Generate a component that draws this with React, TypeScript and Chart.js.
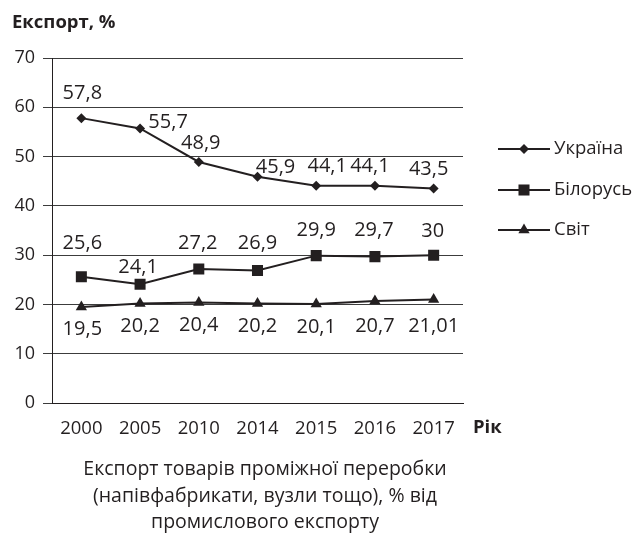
import React, { useEffect, useRef } from 'react';
import { Chart, registerables } from 'chart.js';

Chart.register(...registerables);

const years = ['2000', '2005', '2010', '2014', '2015', '2016', '2017'];
const ukraine = [57.8, 55.7, 48.9, 45.9, 44.1, 44.1, 43.5];
const belarus = [25.6, 24.1, 27.2, 26.9, 29.9, 29.7, 30];
const world = [19.5, 20.2, 20.4, 20.2, 20.1, 20.7, 21.01];
const seriesNames = ['Україна', 'Білорусь', 'Світ'];
const yAxisTitle = 'Експорт, %';
const xAxisTitle = 'Рік';
const caption = [
  'Експорт товарів проміжної переробки',
  '(напівфабрикати, вузли тощо), % від',
  'промислового експорту',
];

// label nudges (style only): [dx, dy] relative to the point
const ukraineNudge = [[1, -25], [28, -6], [2, -19], [18, -9], [11, -19], [-5, -19], [-5, -19]];
const belarusNudge = [[1, -34], [-2, -17], [-1, -26], [0, -27], [0, -25], [-1, -26], [-1, -24]];
const worldNudge = [[1, 22], [0, 23], [0, 23], [0, 23], [0, 23], [0, 25], [0, 27]];

const INK = '#231f20';
const GRID = '#3c3c3c';
const FONT = "'Open Sans', sans-serif";

const fmt = (v: number) => String(v).replace('.', ',');

function drawShape(ctx: CanvasRenderingContext2D, style: string, x: number, y: number, r: number) {
  ctx.beginPath();
  if (style === 'rectRot') {
    ctx.moveTo(x, y - r);
    ctx.lineTo(x + r, y);
    ctx.lineTo(x, y + r);
    ctx.lineTo(x - r, y);
  } else if (style === 'rect') {
    const s = r * Math.SQRT1_2;
    ctx.rect(x - s, y - s, 2 * s, 2 * s);
  } else {
    const h = r;
    ctx.moveTo(x, y - h);
    ctx.lineTo(x + h * Math.sin(Math.PI / 3), y + h / 2);
    ctx.lineTo(x - h * Math.sin(Math.PI / 3), y + h / 2);
  }
  ctx.closePath();
  ctx.fill();
}

const overlay = {
  id: 'overlay',
  afterDatasetsDraw(chart: any) {
    const ctx: CanvasRenderingContext2D = chart.ctx;
    const nudges = [ukraineNudge, belarusNudge, worldNudge];
    ctx.save();
    ctx.fillStyle = INK;
    ctx.textAlign = 'center';
    ctx.textBaseline = 'middle';
    ctx.font = `20px ${FONT}`;
    chart.data.datasets.forEach((ds: any, di: number) => {
      const meta = chart.getDatasetMeta(di);
      meta.data.forEach((pt: any, i: number) => {
        const [dx, dy] = nudges[di][i];
        ctx.fillText(fmt(ds.data[i]), pt.x + dx, pt.y + dy);
      });
    });

    // legend
    const area = chart.chartArea;
    const legendY = [149, 190, 230];
    chart.data.datasets.forEach((ds: any, di: number) => {
      const y = legendY[di];
      ctx.strokeStyle = INK;
      ctx.lineWidth = 2;
      ctx.beginPath();
      ctx.moveTo(area.right + 35, y);
      ctx.lineTo(area.right + 87, y);
      ctx.stroke();
      ctx.fillStyle = INK;
      drawShape(ctx, ds.pointStyle, area.right + 61, y, ds.pointRadius);
      ctx.textAlign = 'left';
      ctx.font = `18.5px ${FONT}`;
      ctx.fillText(ds.label, area.right + 91, y);
    });

    // titles
    ctx.font = `bold 18.5px ${FONT}`;
    ctx.textAlign = 'left';
    ctx.fillText(yAxisTitle, 12, 23);
    ctx.fillText(xAxisTitle, area.right + 10, 428);

    // caption
    ctx.font = `19.5px ${FONT}`;
    ctx.textAlign = 'center';
    const cy = [469, 496, 522];
    caption.forEach((line, i) => ctx.fillText(line, 265, cy[i]));
    ctx.restore();
  },
};

export default function App() {
  const ref = useRef<HTMLCanvasElement>(null);
  useEffect(() => {
    const canvas = ref.current!;
    const mk = (label: string, data: number[], style: string, r: number) => ({
      label,
      data,
      borderColor: INK,
      backgroundColor: INK,
      borderWidth: 2,
      pointStyle: style,
      pointRadius: r,
      pointBorderWidth: 0,
      pointBackgroundColor: INK,
      tension: 0,
    });
    const chart = new Chart(canvas, {
      type: 'line',
      data: {
        labels: years,
        datasets: [
          mk(seriesNames[0], ukraine, 'rectRot', 5),
          mk(seriesNames[1], belarus, 'rect', 7.8),
          mk(seriesNames[2], world, 'triangle', 6.5),
        ] as any,
      },
      options: {
        responsive: false,
        animation: false,
        layout: { padding: { left: 0, right: 177, top: 58, bottom: 64 } },
        plugins: {
          legend: { display: false },
          tooltip: { enabled: false },
        },
        scales: {
          x: {
            offset: true,
            grid: { display: false },
            border: { display: true, color: INK, width: 1 },
            ticks: { color: INK, font: { family: FONT, size: 18.5 }, padding: 7, maxRotation: 0, autoSkip: false },
            afterFit: (s: any) => { s.height = 70; },
          },
          y: {
            min: 0,
            max: 70,
            ticks: { stepSize: 10, color: INK, font: { family: FONT, size: 18 }, padding: 8 },
            grid: { color: GRID, lineWidth: 1, tickLength: 9, drawTicks: true },
            border: { display: true, color: INK, width: 1 },
            afterFit: (s: any) => { s.width = 52; },
          },
        },
      } as any,
      plugins: [overlay],
    });
    return () => chart.destroy();
  }, []);
  return (
    <div style={{ position: 'fixed', left: 0, top: 0, width: 640, height: 537, background: '#fff' }}>
      <canvas ref={ref} width={640} height={537} style={{ display: 'block' }} />
    </div>
  );
}
